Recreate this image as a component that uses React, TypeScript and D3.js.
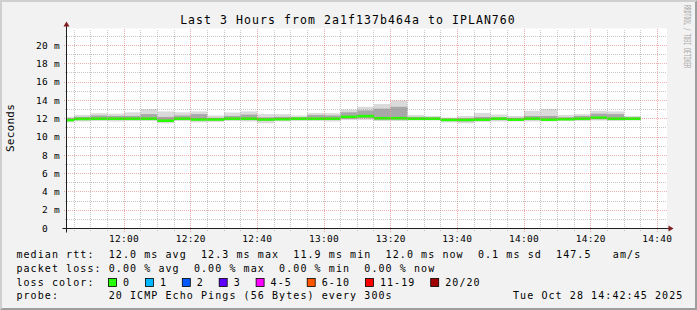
import React from "react";
import * as d3 from "d3";

// ---- data ----
const binTimes = [
  "11:40", "11:45", "11:50", "11:55", "12:00", "12:05", "12:10", "12:15", "12:20", "12:25",
  "12:30", "12:35", "12:40", "12:45", "12:50", "12:55", "13:00", "13:05", "13:10", "13:15",
  "13:20", "13:25", "13:30", "13:35", "13:40", "13:45", "13:50", "13:55", "14:00", "14:05",
  "14:10", "14:15", "14:20", "14:25", "14:30",
];
const medianMs = [
  11.85, 11.98, 12.0, 12.0, 12.0, 12.0, 11.78, 12.0, 11.92, 11.92,
  12.0, 12.0, 11.92, 11.95, 12.0, 12.0, 12.0, 12.2, 12.28, 12.05,
  12.05, 12.0, 12.0, 11.87, 11.87, 11.9, 12.0, 11.9, 12.0, 11.9,
  11.95, 12.0, 12.1, 12.0, 12.0,
];
const smokeHi = [
  12.2, 12.4, 12.6, 12.55, 12.7, 13.05, 12.8, 12.7, 12.8, 12.35,
  12.68, 12.8, 12.5, 12.5, 12.35, 12.63, 12.6, 13.0, 13.3, 13.6,
  14.0, 12.4, 12.3, 12.13, 12.3, 12.63, 12.46, 12.3, 12.86, 13.07,
  12.4, 12.5, 12.86, 12.8, 12.3,
];
const smokeQ3 = [
  12.05, 12.2, 12.35, 12.3, 12.3, 12.5, 12.2, 12.35, 12.5, 12.1,
  12.3, 12.45, 12.15, 12.2, 12.15, 12.4, 12.35, 12.7, 12.9, 13.1,
  13.3, 12.2, 12.15, 12.0, 12.05, 12.2, 12.15, 12.1, 12.3, 12.3,
  12.15, 12.3, 12.55, 12.5, 12.15,
];
const smokeQ1 = [
  11.75, 11.85, 11.9, 11.9, 11.9, 11.9, 11.65, 11.9, 11.8, 11.8,
  11.9, 11.85, 11.75, 11.85, 11.9, 11.9, 11.9, 12.0, 12.05, 11.9,
  11.9, 11.9, 11.9, 11.75, 11.7, 11.8, 11.85, 11.8, 11.85, 11.8,
  11.85, 11.9, 11.95, 11.9, 11.9,
];
const smokeLo = [
  11.6, 11.7, 11.75, 11.7, 11.75, 11.75, 11.5, 11.75, 11.6, 11.65,
  11.75, 11.7, 11.5, 11.7, 11.75, 11.75, 11.7, 11.85, 11.85, 11.75,
  11.75, 11.8, 11.8, 11.6, 11.5, 11.65, 11.7, 11.7, 11.7, 11.7,
  11.75, 11.75, 11.8, 11.75, 11.8,
];
const yTickValues = [0, 2, 4, 6, 8, 10, 12, 14, 16, 18, 20];
const xTickLabels = ["12:00", "12:20", "12:40", "13:00", "13:20", "13:40", "14:00", "14:20", "14:40"];
const lossLabels = ["0", "1", "2", "3", "4-5", "6-10", "11-19", "20/20"];
const lossColors = ["#26ff00", "#00b8ff", "#0059ff", "#5e00ff", "#ff00ff", "#ff5500", "#ff0000", "#a10000"];
const titleText = "Last 3 Hours from 2a1f137b464a to IPLAN760";
const legendLine1 = "median rtt:  12.0 ms avg  12.3 ms max  11.9 ms min  12.0 ms now  0.1 ms sd  147.5   am/s";
const legendLine2 = "packet loss: 0.00 % avg  0.00 % max  0.00 % min  0.00 % now";
const legendLine3 = "loss color:";
const legendLine4 = "probe:       20 ICMP Echo Pings (56 Bytes) every 300s";
const stampText = "Tue Oct 28 14:42:45 2025";
const startTime = "11:42:45";
const endTime = "14:42:45";
const yMaxMs = 21.86;

// ---- layout ----
const W = 697;
const H = 310;
const X0 = 66.5;
const XS = 600;
const Y0 = 228.5;
const YS = 200;
const FONT = "'DejaVu Sans Mono', monospace";
const CHAR = 7.1;

const toMin = (s: string) => {
  const p = s.split(":").map(Number);
  return p[0] * 60 + p[1] + (p[2] || 0) / 60;
};

export default function App() {
  const x = d3.scaleLinear().domain([toMin(startTime), toMin(endTime)]).range([X0, X0 + XS]);
  const y = d3.scaleLinear().domain([0, yMaxMs]).range([Y0, Y0 - YS]);
  const snap = (v: number) => Math.round(v - 0.5) + 0.5;

  const t0 = toMin(startTime);
  const t1 = toMin(endTime);
  const minorTimes = d3.range(Math.ceil(t0 / 5) * 5, t1, 5);
  const majorTimes = xTickLabels.map(toMin);
  const minorY = d3.range(1, Math.floor(yMaxMs) + 1).filter((v) => v % 2 === 1);
  const majorY = yTickValues.filter((v) => v > 0);

  const bins = binTimes.map((t, i) => {
    const a = Math.max(x(toMin(t)), X0 + 0.5);
    const b = Math.min(x(toMin(t) + 5), X0 + XS);
    return { a, b, i };
  });

  const minorStroke = "rgba(143,143,143,0.5)";
  const majorStroke = "rgba(222,79,79,0.45)";

  let cur = 108;
  const swatches = lossLabels.map((lab, i) => {
    const sx = cur;
    const lx = cur + 15;
    cur = lx + lab.length * CHAR + 14.8;
    return { sx, lx, lab, col: lossColors[i] };
  });

  const txt = { fontFamily: FONT, whiteSpace: "pre" as const };

  return (
    <svg width={W} height={H} style={{ position: "absolute", left: 0, top: 0 }} xmlns="http://www.w3.org/2000/svg">
      <rect x={0} y={0} width={W} height={H} fill="#f2f2f2" />
      <polygon points={`0,0 ${W},0 ${W - 2},2 2,2 2,${H - 2} 0,${H}`} fill="#cfcfcf" />
      <polygon points={`${W},${H} 0,${H} 2,${H - 2} ${W - 2},${H - 2} ${W - 2},2 ${W},0`} fill="#9e9e9e" />

      {/* canvas */}
      <rect x={X0 + 0.5} y={Y0 - YS} width={XS} height={YS} fill="#ffffff" />

      {/* smoke */}
      {bins.map(({ a, b, i }) => (
        <g key={"s" + i}>
          <rect x={a} width={b - a} y={y(smokeHi[i])} height={y(smokeLo[i]) - y(smokeHi[i])} fill="#dadada" />
          <rect x={a} width={b - a} y={y(smokeQ3[i])} height={y(smokeQ1[i]) - y(smokeQ3[i])} fill="#a8a8a8" />
          <rect x={a} width={b - a} y={y(medianMs[i]) - 1.3} height={2.6} fill={lossColors[0]} />
        </g>
      ))}

      {/* grid */}
      <g shapeRendering="crispEdges">
        {minorTimes.filter((t) => !majorTimes.includes(t)).map((t) => (
          <line key={"vx" + t} x1={snap(x(t))} x2={snap(x(t))} y1={Y0 + 2} y2={Y0 - YS} stroke={minorStroke} strokeWidth={1} strokeDasharray="1,1" />
        ))}
        {majorTimes.map((t) => (
          <line key={"VX" + t} x1={snap(x(t))} x2={snap(x(t))} y1={Y0 + 3} y2={Y0 - YS} stroke={majorStroke} strokeWidth={1} strokeDasharray="1,1" />
        ))}
        {minorY.map((v) => (
          <line key={"hy" + v} x1={X0 - 2} x2={X0 + XS} y1={snap(y(v))} y2={snap(y(v))} stroke={minorStroke} strokeWidth={1} strokeDasharray="1,1" />
        ))}
        {majorY.map((v) => (
          <line key={"HY" + v} x1={X0 - 3} x2={X0 + XS} y1={snap(y(v))} y2={snap(y(v))} stroke={majorStroke} strokeWidth={1} strokeDasharray="1,1" />
        ))}
      </g>

      {/* axes */}
      <line x1={X0 - 4} x2={X0 + XS + 4} y1={Y0} y2={Y0} stroke="#1f1f1f" strokeWidth={1} />
      <line x1={X0} x2={X0} y1={Y0 + 4} y2={Y0 - YS - 4} stroke="#1f1f1f" strokeWidth={1} />
      <polygon points={`${X0 + XS + 2},${Y0 - 3} ${X0 + XS + 2},${Y0 + 3} ${X0 + XS + 7},${Y0}`} fill="#801f1f" />
      <polygon points={`${X0 - 3},${Y0 - YS - 2} ${X0 + 3},${Y0 - YS - 2} ${X0},${Y0 - YS - 7}`} fill="#801f1f" />

      {/* y tick labels */}
      {yTickValues.map((v) => (
        <g key={"yl" + v}>
          <text x={48} y={y(v) + 3.2} textAnchor="end" fontSize={9.5} letterSpacing={0.28} style={txt} fill="#000">{String(v)}</text>
          {v > 0 && (
            <text x={54} y={y(v) + 3.2} fontSize={9.5} style={txt} fill="#000">m</text>
          )}
        </g>
      ))}

      {/* x tick labels */}
      {xTickLabels.map((lab) => (
        <text key={"xl" + lab} x={x(toMin(lab))} y={241.7} textAnchor="middle" fontSize={9.5} letterSpacing={0.28} style={txt} fill="#000">{lab}</text>
      ))}

      {/* title */}
      <text x={348} y={23.5} textAnchor="middle" fontSize={11.5} letterSpacing={1.07} style={txt} fill="#000">{titleText}</text>

      {/* y label */}
      <text transform={`translate(14,128) rotate(-90)`} textAnchor="middle" fontSize={11} letterSpacing={0.24} style={txt} fill="#000">Seconds</text>

      {/* watermark */}
      <text transform={`translate(684,5) rotate(90)`} fontSize={8.5} textLength={63} lengthAdjust="spacingAndGlyphs" style={txt} fill="#a8a8a8">RRDTOOL / TOBI OETIKER</text>

      {/* legend */}
      <text x={16.4} y={257.7} fontSize={10} letterSpacing={CHAR - 6.02} style={txt} fill="#000">{legendLine1}</text>
      <text x={16.4} y={271.7} fontSize={10} letterSpacing={CHAR - 6.02} style={txt} fill="#000">{legendLine2}</text>
      <text x={16.4} y={285.7} fontSize={10} letterSpacing={CHAR - 6.02} style={txt} fill="#000">{legendLine3}</text>
      {swatches.map((s) => (
        <g key={"sw" + s.lab}>
          <rect x={s.sx + 0.5} y={278.5} width={8} height={8} fill={s.col} stroke="#000" strokeWidth={0.8} />
          <text x={s.lx} y={285.7} fontSize={10} letterSpacing={CHAR - 6.02} style={txt} fill="#000">{s.lab}</text>
        </g>
      ))}
      <text x={16.4} y={298.7} fontSize={10} letterSpacing={CHAR - 6.02} style={txt} fill="#000">{legendLine4}</text>
      <text x={513} y={298.7} fontSize={10} letterSpacing={CHAR - 6.02} style={txt} fill="#000">{stampText}</text>
    </svg>
  );
}
